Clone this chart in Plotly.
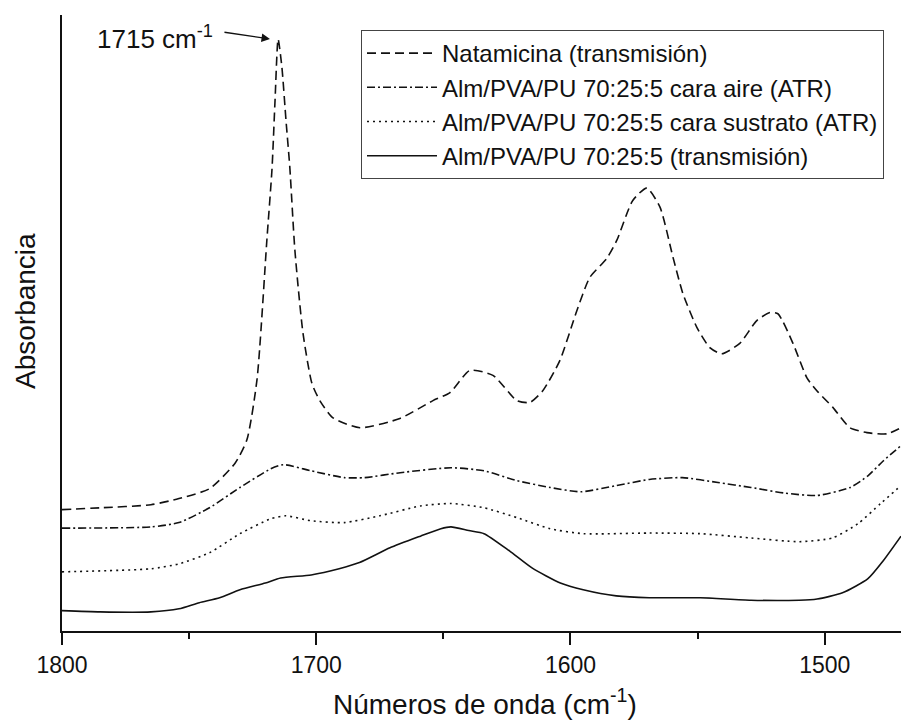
import plotly.graph_objects as go

# Wavenumbers (cm-1) and absorbance (arbitrary units, offset curves)
nat_x = [1800, 1785, 1765, 1754, 1742, 1732, 1727.3, 1723.3, 1719.4, 1717.4, 1716.2, 1715,
         1713.5, 1711.9, 1710.4, 1708.4, 1705.2, 1701.7, 1698.6, 1693.4, 1682.8, 1667.1,
         1654.1, 1647.4, 1639.6, 1630.5, 1621.1, 1616.0, 1610.9, 1604.2, 1597.5, 1592.4,
         1585.7, 1581.8, 1575.5, 1570.0, 1564.8, 1559.7, 1555.8, 1550.3, 1545.2, 1540.5,
         1533.4, 1526.7, 1521.6, 1518.4, 1512.5, 1507.0, 1503.1, 1496.8, 1490.1, 1483.4,
         1475.6, 1470]
nat_y = [0.197, 0.200, 0.205, 0.215, 0.231, 0.272, 0.310, 0.408, 0.636, 0.750, 0.862, 0.961,
         0.915, 0.829, 0.753, 0.618, 0.483, 0.402, 0.374, 0.346, 0.330, 0.345,
         0.374, 0.387, 0.423, 0.415, 0.374, 0.371, 0.390, 0.439, 0.520, 0.574,
         0.605, 0.634, 0.699, 0.719, 0.688, 0.607, 0.548, 0.493, 0.460, 0.450,
         0.467, 0.504, 0.517, 0.515, 0.467, 0.411, 0.390, 0.363, 0.330, 0.322,
         0.320, 0.330]

aire_x = [1800, 1765, 1754, 1742, 1730, 1718, 1713, 1702, 1689, 1681, 1667, 1647, 1634,
          1621, 1608, 1596, 1582, 1569, 1556, 1542, 1529, 1516, 1503, 1490, 1483, 1477, 1470]
aire_y = [0.167, 0.169, 0.176, 0.200, 0.233, 0.263, 0.270, 0.260, 0.249, 0.249, 0.257, 0.265,
          0.260, 0.244, 0.233, 0.226, 0.236, 0.246, 0.249, 0.241, 0.233, 0.224, 0.220, 0.233,
          0.252, 0.276, 0.301]

sust_x = [1800, 1765, 1754, 1742, 1730, 1718, 1712, 1702, 1689, 1675, 1659, 1647, 1634,
          1621, 1608, 1595, 1569, 1549, 1529, 1510, 1497, 1487, 1478, 1470]
sust_y = [0.096, 0.101, 0.109, 0.127, 0.158, 0.182, 0.187, 0.179, 0.176, 0.187, 0.203, 0.207,
          0.200, 0.184, 0.166, 0.158, 0.159, 0.158, 0.151, 0.145, 0.151, 0.174, 0.207, 0.236]

trans_x = [1800, 1785, 1765, 1754, 1746, 1738, 1730, 1720, 1714, 1702, 1691, 1683, 1671,
           1659, 1651, 1647, 1640, 1634, 1624, 1615, 1604, 1595, 1582, 1569, 1549, 1529,
           1510, 1503, 1493, 1483, 1477, 1470]
trans_y = [0.033, 0.031, 0.031, 0.036, 0.046, 0.054, 0.067, 0.078, 0.086, 0.091, 0.101, 0.111,
           0.135, 0.154, 0.166, 0.169, 0.163, 0.158, 0.130, 0.102, 0.078, 0.067, 0.057, 0.054,
           0.054, 0.050, 0.050, 0.052, 0.062, 0.085, 0.114, 0.154]

names = ["Natamicina (transmisión)",
         "Alm/PVA/PU 70:25:5 cara aire (ATR)",
         "Alm/PVA/PU 70:25:5 cara sustrato (ATR)",
         "Alm/PVA/PU 70:25:5 (transmisión)"]

x_ticks = [1800, 1700, 1600, 1500]
peak_label = "1715 cm<sup>-1</sup>"

FONT = "Arial, Liberation Sans, sans-serif"
fig = go.Figure()
series = [(nat_x, nat_y, "9px,5px"), (aire_x, aire_y, "8px,3px,2px,3px"),
          (sust_x, sust_y, "2px,4px"), (trans_x, trans_y, "solid")]
for i, (xs, ys, dash) in enumerate(series):
    fig.add_trace(go.Scatter(x=xs, y=ys, mode="lines", name=names[i],
                             line=dict(color="#111", width=1.6, dash=dash,
                                       shape="spline", smoothing=0.6)))

fig.update_layout(
    width=901, height=726,
    margin=dict(l=62, r=0, t=15, b=95),
    plot_bgcolor="white", paper_bgcolor="white",
    font=dict(family=FONT, color="#111"),
    showlegend=True,
    legend=dict(x=(361 - 62) / 839, y=(631 - 30) / 616, xanchor="left", yanchor="top",
                bordercolor="#444", borderwidth=1, bgcolor="white", itemwidth=70,
                font=dict(size=24, family=FONT, color="#111")),
    xaxis=dict(range=[1800, 1470], tickvals=x_ticks, ticktext=[str(t) for t in x_ticks],
               showline=True, linecolor="#111", linewidth=2, ticks="outside",
               ticklen=12, tickwidth=2, tickcolor="#111", showgrid=False, zeroline=False,
               tickfont=dict(size=23, family=FONT, color="#111"),
               minor=dict(tickvals=[1750, 1650, 1550], ticks="outside", ticklen=6,
                          tickwidth=2, tickcolor="#111", showgrid=False)),
    yaxis=dict(range=[0, 1], showline=True, linecolor="#111", linewidth=2, ticks="",
               showticklabels=False, showgrid=False, zeroline=False),
)

fig.add_annotation(xref="paper", yref="paper", x=(485 - 62) / 839, y=(631 - 702) / 616,
                   text="Números de onda (cm<sup>-1</sup>)", showarrow=False,
                   xanchor="center", yanchor="middle",
                   font=dict(size=28, family=FONT, color="#111"))
fig.add_annotation(xref="paper", yref="paper", x=(25 - 62) / 839, y=(631 - 311) / 616,
                   text="Absorbancia", showarrow=False, textangle=-90,
                   xanchor="center", yanchor="middle",
                   font=dict(size=28, family=FONT, color="#111"))
fig.add_annotation(x=1763.5, y=0.963, text=peak_label, showarrow=False,
                   xanchor="center", yanchor="middle",
                   font=dict(size=26, family=FONT, color="#111"))
fig.add_annotation(x=1718.2, y=0.961, text="", showarrow=True, ax=-47, ay=-7,
                   arrowhead=2, arrowsize=1.3, arrowwidth=1.3, arrowcolor="#111")

fig.write_html("out.html", config={"displayModeBar": False},
               post_script="document.body.style.margin='0';")
